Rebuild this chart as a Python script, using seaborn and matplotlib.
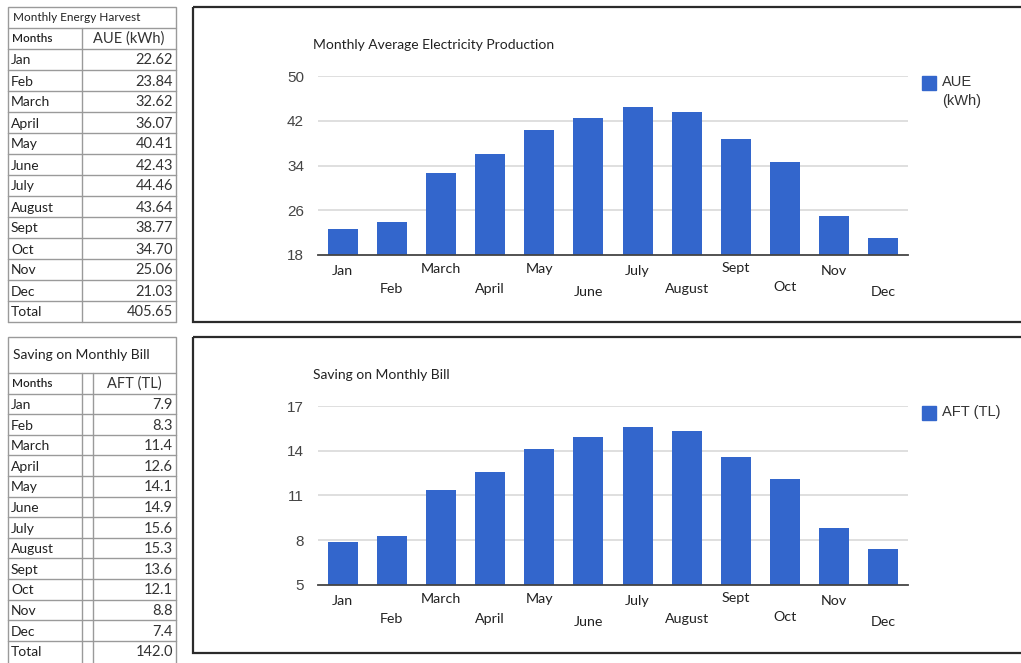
import matplotlib
matplotlib.use("Agg")
import matplotlib.pyplot as plt
from matplotlib.patches import Rectangle
import pandas as pd
import seaborn as sns

# ---- data -------------------------------------------------------------
months = ["Jan", "Feb", "March", "April", "May", "June",
          "July", "August", "Sept", "Oct", "Nov", "Dec"]
aue_kwh = [22.62, 23.84, 32.62, 36.07, 40.41, 42.43,
           44.46, 43.64, 38.77, 34.70, 25.06, 21.03]
aft_tl = [7.9, 8.3, 11.4, 12.6, 14.1, 14.9,
          15.6, 15.3, 13.6, 12.1, 8.8, 7.4]
aue_ticks = [18, 26, 34, 42, 50]
aft_ticks = [5, 8, 11, 14, 17]

# ---- style ------------------------------------------------------------
W, H = 1021, 663
BLUE = "#3366CC"
GRID = "#d9d9d9"
CELL_LINE = "#9a9a9a"
TEXT = "#222222"
TICK_TEXT = "#444444"
LABEL_FONT = ["Lato", "DejaVu Sans"]
NUM_FONT = ["Liberation Sans", "DejaVu Sans"]
# extra drop (points) of each month label below the axis: two staggered rows
label_pads = [7, 20, 6, 20, 6, 22, 7, 20, 5, 19, 7, 22]

sns.set_theme(style="white")
plt.rcParams["font.family"] = LABEL_FONT

fig = plt.figure(figsize=(W / 100, H / 100), dpi=100)
fig.patch.set_facecolor("white")

# pixel-space canvas for the tables and panel frames
bg = fig.add_axes([0, 0, 1, 1])
bg.set_xlim(0, W)
bg.set_ylim(H, 0)
bg.axis("off")


def px_axes(left, top, right, bottom):
    return fig.add_axes([left / W, 1 - bottom / H, (right - left) / W, (bottom - top) / H])


def draw_table(top, title, title_h, title_size, header, values, fmt,
               row_h, spacer, closed):
    x0, xm, xs, x1 = 8, 82, 93, 176
    labels = months + ["Total"]
    cells = [fmt.format(v) for v in values] + [fmt.format(sum(values))]
    y = top
    # title row
    bg.add_patch(Rectangle((x0, y), x1 - x0, title_h, fill=False, ec=CELL_LINE, lw=1))
    bg.text(x0 + 5, y + title_h / 2, title, fontsize=title_size, color=TEXT,
            va="center", ha="left")
    y += title_h
    # header + body rows
    rows = [("Months", header)] + list(zip(labels, cells))
    for i, (lab, val) in enumerate(rows):
        h = row_h
        bottom = y + h
        if i == len(rows) - 1 and not closed:
            bottom = H + 5
        bg.plot([x0, x0], [y, bottom], color=CELL_LINE, lw=1)
        bg.plot([x1, x1], [y, bottom], color=CELL_LINE, lw=1)
        bg.plot([xm, xm], [y, bottom], color=CELL_LINE, lw=1)
        if spacer:
            bg.plot([xs, xs], [y, bottom], color=CELL_LINE, lw=1)
        if bottom < H:
            bg.plot([x0, x1], [bottom, bottom], color=CELL_LINE, lw=1)
        vx0 = xs if spacer else xm
        if i == 0:
            bg.text(x0 + 4, y + h / 2, lab, fontsize=8.5, fontweight="semibold",
                    color=TEXT, va="center", ha="left")
            bg.text((vx0 + x1) / 2, y + h / 2, val, fontsize=10.5, color="#333333",
                    va="center", ha="center")
        else:
            bg.text(x0 + 3, y + h / 2 + 1, lab, fontsize=10, color=TEXT,
                    va="center", ha="left")
            bg.text(x1 - 3, y + h / 2 + 1, val, fontsize=10.5, color="#333333",
                    va="center", ha="right")
        y += h


draw_table(7, "Monthly Energy Harvest", 21, 8.5, "AUE (kWh)", aue_kwh, "{:.2f}",
           21, spacer=False, closed=True)
draw_table(337, "Saving on Monthly Bill", 36, 10, "AFT (TL)", aft_tl, "{:.1f}",
           20.6, spacer=True, closed=False)

# panel frames
for top, bottom in [(7, 322), (337, 653)]:
    bg.add_patch(Rectangle((193, top), W + 10 - 193, bottom - top, fill=False,
                           ec="#2b2b2b", lw=1.6))


def bar_chart(top, bottom, values, ticks, title, legend_text):
    ax = px_axes(318, top, 908, bottom)
    df = pd.DataFrame({"month": months, "value": values})
    sns.barplot(data=df, x="month", y="value", color=BLUE, saturation=1,
                width=0.61, linewidth=0, ax=ax, zorder=3)
    ax.set_ylim(ticks[0], ticks[-1])
    ax.set_xlim(-0.5, len(months) - 0.5)
    ax.set_yticks(ticks)
    ax.set_yticklabels([str(t) for t in ticks], fontfamily=NUM_FONT,
                       fontsize=11, color=TICK_TEXT)
    for t in ticks[1:]:
        ax.axhline(t, color=GRID, lw=1.2, zorder=1)
    for s in ["top", "right", "left"]:
        ax.spines[s].set_visible(False)
    ax.spines["bottom"].set_color("#444444")
    ax.spines["bottom"].set_linewidth(1.3)
    ax.spines["bottom"].set_zorder(4)
    ax.tick_params(axis="y", length=0, pad=10)
    ax.tick_params(axis="x", length=0)
    ax.set_xticks(range(len(months)))
    ax.set_xticklabels(months, fontsize=10.3, color=TEXT)
    for tick, pad in zip(ax.xaxis.get_major_ticks(), label_pads):
        tick.set_pad(pad)
    ax.set_xlabel("")
    ax.set_ylabel("")
    ax.grid(False)
    ax.set_facecolor("none")
    # title
    bg.text(313, top - 31, title, fontsize=10, color=TEXT, va="center", ha="left")
    # legend key
    bg.add_patch(Rectangle((922, top), 14, 14, color=BLUE))
    bg.text(942, top - 1, legend_text, fontsize=10.5, color="#333333",
            fontfamily=NUM_FONT, va="top", ha="left", linespacing=1.45)
    return ax


bar_chart(76, 255, aue_kwh, aue_ticks, "Monthly Average Electricity Production",
          "AUE\n(kWh)")
bar_chart(406, 585, aft_tl, aft_ticks, "Saving on Monthly Bill", "AFT (TL)")

fig.savefig("out.png", dpi=100, facecolor="white")
